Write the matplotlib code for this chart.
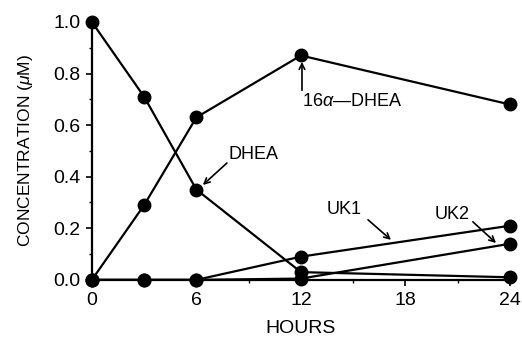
import matplotlib
matplotlib.use("Agg")
import matplotlib.pyplot as plt

# values
HOURS = [0, 3, 6, 12, 24]
DHEA = [1.0, 0.71, 0.35, 0.03, 0.01]
DHEA_16A = [0.0, 0.29, 0.63, 0.87, 0.68]
UK1 = [0.0, 0.0, 0.0, 0.09, 0.21]
UK2 = [0.0, 0.0, 0.0, 0.005, 0.14]

X_TICKS = [0, 6, 12, 18, 24]
Y_TICKS = [0.0, 0.2, 0.4, 0.6, 0.8, 1.0]

plt.rcParams["font.family"] = ["Liberation Sans", "DejaVu Sans"]
plt.rcParams["mathtext.fontset"] = "custom"
plt.rcParams["mathtext.rm"] = "Liberation Sans"
plt.rcParams["mathtext.it"] = "Liberation Sans:italic"

fig = plt.figure(figsize=(5.22, 3.38), dpi=100)
ax = fig.add_axes([0.176, 0.172, 0.801, 0.763])

for series in [DHEA, DHEA_16A, UK1, UK2]:
	ax.plot(HOURS, series, color="black", linewidth=1.6, marker="o",
		markersize=9, clip_on=False, zorder=3)

ax.set_xlim(0, 24)
ax.set_ylim(0, 1.0)
ax.set_xticks(X_TICKS)
ax.set_yticks(Y_TICKS)
ax.set_yticklabels([f"{v:.1f}" for v in Y_TICKS])
ax.set_xticks([3, 9, 15, 21], minor=True)
ax.set_yticks([0.1, 0.3, 0.5, 0.7, 0.9], minor=True)
ax.tick_params(which="major", direction="out", length=4, width=1.2, labelsize=14, pad=4)
ax.tick_params(axis="x", which="major", pad=5)
ax.tick_params(which="minor", direction="out", length=2.5, width=1.0)

for side in ["top", "right"]:
	ax.spines[side].set_visible(False)
for side in ["left", "bottom"]:
	ax.spines[side].set_linewidth(1.6)

ax.set_xlabel("HOURS", fontsize=14, labelpad=8)
ax.set_ylabel("CONCENTRATION ($\\mu$M)", fontsize=12.5, labelpad=13)

arrow = dict(arrowstyle="->", color="black", lw=1.2, shrinkA=0, shrinkB=0)
ax.annotate("16$\\alpha$\u2014DHEA", xy=(12.06, 0.845), xytext=(12.06, 0.69),
	fontsize=13, va="center", ha="left")
ax.annotate("", xy=(12.06, 0.845), xytext=(12.06, 0.735), arrowprops=arrow)
ax.annotate("DHEA", xy=(6.37, 0.368), xytext=(7.85, 0.488),
	fontsize=13, va="center", ha="left")
ax.annotate("", xy=(6.37, 0.368), xytext=(7.75, 0.453), arrowprops=arrow)
ax.annotate("UK1", xy=(17.17, 0.155), xytext=(13.5, 0.271),
	fontsize=13, va="center", ha="left")
ax.annotate("", xy=(17.17, 0.155), xytext=(15.85, 0.233), arrowprops=arrow)
ax.annotate("UK2", xy=(23.2, 0.143), xytext=(19.7, 0.252),
	fontsize=13, va="center", ha="left")
ax.annotate("", xy=(23.2, 0.143), xytext=(21.87, 0.225), arrowprops=arrow)

fig.savefig("out.png", dpi=100)
